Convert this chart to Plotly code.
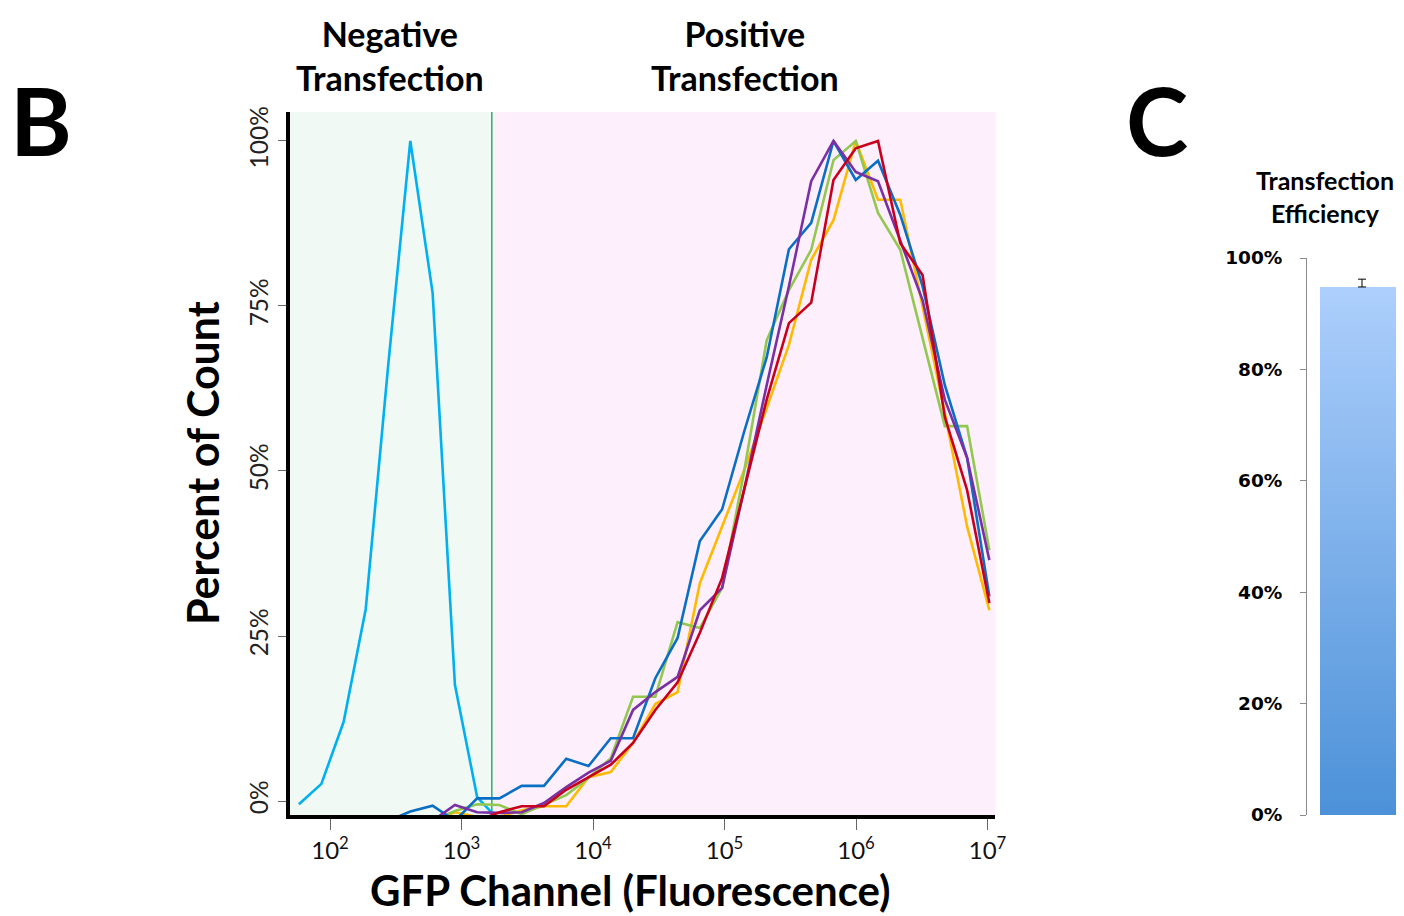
import plotly.graph_objects as go

# ---------------- data ----------------
# histogram bin centres of the GFP channel (fluorescence units)
BIN_CENTERS = [58, 86, 127, 187, 277, 408, 603, 891, 1315, 1943, 2869, 4237,
               6257, 9246, 13650, 20160, 29780, 43980, 64950, 95940, 141700,
               209300, 309000, 456400, 674100, 995600, 1470000, 2172000,
               3207000, 4737000, 6996000, 10330000]

GATE = 1700  # gate between negative and positive transfection

# percent of count (peak-normalised)
NEGATIVE = [-0.5, 2.6, 12.0, 29.1, 66.0, 100, 77.0, 17.6, 0.6, -3,
            None, None, None, None, None, None, None, None, None, None, None,
            None, None, None, None, None, None, None, None, None, None, None]
BLUE = [None, None, None, None, -3, -1.6, -0.7, -3, 0.4, 0.4, 2.3, 2.3, 6.4, 5.3,
        9.5, 9.5, 18.6, 24.7, 39.4, 44.2, 56.1, 67.2, 83.6, 87.6, 100, 94.1,
        97.0, 88.8, 78.0, 63.0, 52.0, 31.0]
PURPLE = [None, None, None, None, None, None, -3, -0.6, -1.7, -1.8, -1.7, -0.3,
          2.1, 4.3, 6.1, 13.8, 16.5, 18.8, 28.9, 32.3, 47.4, 63.0, 78.0, 93.9,
          100, 95.3, 93.9, 85.0, 75.9, 60.8, 52.0, 36.5]
GREEN = [None, None, None, None, None, None, -3, -1.5, -0.5, -0.6, -2.0, -0.6,
         0.9, 3.5, 6.5, 15.8, 15.8, 27.1, 26.2, 32.3, 50.2, 69.8, 77.4, 83.5,
         97.1, 100, 89.1, 83.5, 70.0, 56.8, 56.8, 38.0]
RED = [None, None, None, None, None, None, None, None, -3, -1.7, -0.8, -0.8,
       1.7, 3.6, 5.5, 8.8, 13.8, 18.0, 25.5, 33.8, 47.1, 60.8, 72.4, 75.5,
       94.1, 98.9, 100, 84.5, 79.7, 58.2, 47.1, 30.0]
YELLOW = [None, None, None, None, None, None, -3, -1.7, -2.4, -2.4, -1.4, -0.8,
          -0.8, 3.6, 4.4, 8.8, 14.7, 16.5, 33.0, 41.5, 50.2, 59.5, 69.1, 82.0,
          88.0, 100, 91.1, 91.1, 75.0, 58.8, 41.6, 28.9]

X_TICKS = [1e2, 1e3, 1e4, 1e5, 1e6, 1e7]
X_TICK_TEXT = ["10<sup>2</sup>", "10<sup>3</sup>", "10<sup>4</sup>",
               "10<sup>5</sup>", "10<sup>6</sup>", "10<sup>7</sup>"]
Y_TICKS = [0, 25, 50, 75, 100]
Y_TICK_TEXT = ["0%", "25%", "50%", "75%", "100%"]

EFFICIENCY = [94.8]
EFFICIENCY_ERR = [1.4]
C_TICKS = [0, 20, 40, 60, 80, 100]
C_TICK_TEXT = ["0%", "20%", "40%", "60%", "80%", "100%"]

# ---------------- figure ----------------
PAGE_OFFSET = 8            # default page margin of the browser
W, H = 1404 - PAGE_OFFSET, 916 - PAGE_OFFSET
FONT = "Lato"

fig = go.Figure()

# shaded gate regions
fig.add_trace(go.Scatter(x=[1, GATE, GATE, 1], y=[-50, -50, 200, 200],
                         fill="toself", mode="none", fillcolor="#F0F9F4",
                         hoverinfo="skip", showlegend=False))
fig.add_trace(go.Scatter(x=[GATE, 1e9, 1e9, GATE], y=[-50, -50, 200, 200],
                         fill="toself", mode="none", fillcolor="#FDF0FC",
                         hoverinfo="skip", showlegend=False))
fig.add_trace(go.Scatter(x=[GATE, GATE], y=[-50, 200], mode="lines",
                         line=dict(color="#2EB872", width=1.6),
                         hoverinfo="skip", showlegend=False))

series = [
    (NEGATIVE, "#00B0F0"),
    (YELLOW, "#FFB900"),
    (GREEN, "#92C84F"),
    (BLUE, "#0A6FC4"),
    (PURPLE, "#7A2FA3"),
    (RED, "#C8001E"),
]
for vals, col in series:
    fig.add_trace(go.Scatter(x=BIN_CENTERS, y=vals, mode="lines",
                             line=dict(color=col, width=2.6),
                             connectgaps=False, showlegend=False))

# panel C bar (gradient fill) + error bar
c, hw = 0.567, 0.433
v = EFFICIENCY[0]
fig.add_trace(go.Scatter(x=[c - hw, c - hw, c + hw + 0.1, c + hw + 0.1], y=[0, v, v, 0],
                         fill="toself", mode="none",
                         fillgradient=dict(type="vertical",
                                           colorscale=[[0, "#4C91D8"], [1, "#ADCFFC"]]),
                         xaxis="x2", yaxis="y2", showlegend=False))
fig.add_trace(go.Scatter(x=[c], y=EFFICIENCY, mode="markers",
                         marker=dict(size=1, color="rgba(0,0,0,0)"),
                         error_y=dict(type="data", symmetric=False,
                                      array=EFFICIENCY_ERR, arrayminus=[0],
                                      color="black", thickness=1, width=4),
                         xaxis="x2", yaxis="y2", showlegend=False))

px2x = lambda p: (p - PAGE_OFFSET) / W
py2y = lambda p: (H - (p - PAGE_OFFSET)) / H

fig.update_layout(
    width=W, height=H,
    margin=dict(l=0, r=0, t=0, b=0, autoexpand=False),
    paper_bgcolor="white", plot_bgcolor="rgba(0,0,0,0)",
    showlegend=False,
    xaxis=dict(type="log", range=[1.6958, 7.0570], automargin=False,
               domain=[px2x(290), px2x(995)], anchor="y",
               showline=True, linewidth=4, linecolor="black",
               ticks="outside", ticklen=11, tickwidth=1, tickcolor="#666",
               tickvals=X_TICKS, ticktext=X_TICK_TEXT,
               tickfont=dict(family=FONT, size=24, color="#111"),
               showgrid=False, zeroline=False),
    yaxis=dict(range=[-2.12, 104.39], automargin=False,
               domain=[py2y(815), py2y(112)], anchor="x",
               showline=True, linewidth=4, linecolor="black",
               ticks="outside", ticklen=8, tickwidth=1, tickcolor="#666",
               tickvals=Y_TICKS, ticktext=Y_TICK_TEXT, tickangle=-90,
               tickfont=dict(family=FONT, size=24.5, color="#222"),
               showgrid=False, zeroline=False),
    xaxis2=dict(range=[0, 1], domain=[px2x(1307), 1.0], anchor="y2",
                automargin=False, visible=False, showgrid=False, zeroline=False),
    yaxis2=dict(range=[0, 100], domain=[py2y(815), py2y(258)], anchor="x2",
                automargin=False,
                showline=True, linewidth=1, linecolor="#8c8c8c",
                ticks="outside", ticklen=6, tickwidth=1, tickcolor="#8c8c8c",
                tickvals=C_TICKS, ticktext=C_TICK_TEXT,
                ticklabelstandoff=14,
                tickfont=dict(family="DejaVu Sans", size=18.5, color="black",
                              weight="bold"),
                showgrid=False, zeroline=False),
)

ann = [
    dict(text="<b>B</b>", x=px2x(41), y=py2y(120), size=94),
    dict(text="<b>C</b>", x=px2x(1157), y=py2y(120), size=94),
    dict(text="<b>Negative<br>Transfection</b>", x=px2x(390), y=py2y(56), size=34),
    dict(text="<b>Positive<br>Transfection</b>", x=px2x(745), y=py2y(56), size=34),
    dict(text="<b>Transfection<br>Efficiency</b>", x=px2x(1325), y=py2y(196), size=25),
    dict(text="<b>GFP Channel (Fluorescence)</b>", x=px2x(630), y=py2y(890), size=42),
]
for a in ann:
    fig.add_annotation(text=a["text"], x=a["x"], y=a["y"], xref="paper", yref="paper",
                       xanchor="center", yanchor="middle", showarrow=False,
                       font=dict(family=FONT, size=a["size"], color="black"))
fig.add_annotation(text="<b>Percent of Count</b>", x=px2x(203), y=py2y(463),
                   xref="paper", yref="paper", xanchor="center", yanchor="middle",
                   textangle=-90, showarrow=False,
                   font=dict(family=FONT, size=43, color="black"))

fig.write_html("out.html")
